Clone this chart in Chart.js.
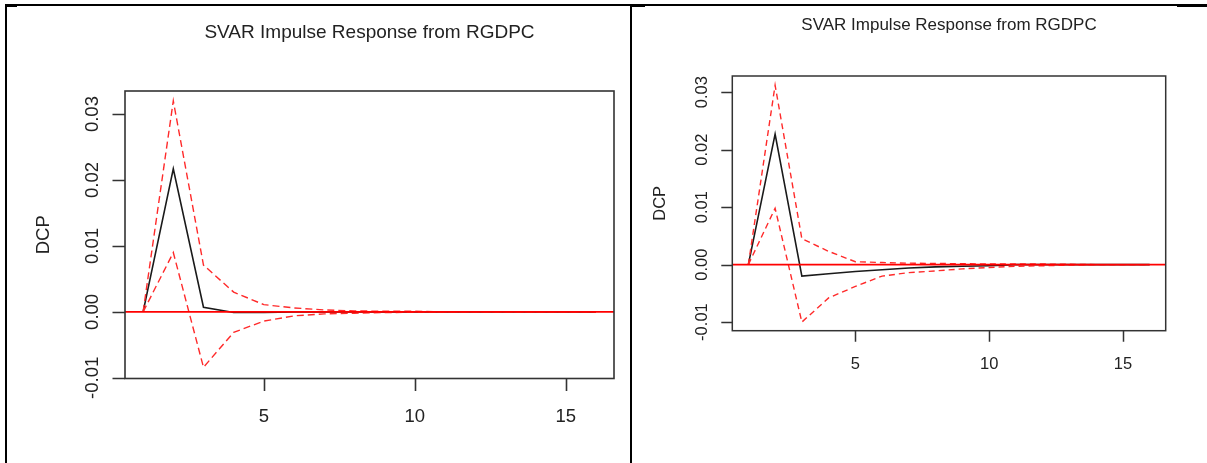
<!DOCTYPE html>
<html>
<head>
<meta charset="utf-8">
<title>SVAR Impulse Response from RGDPC</title>
<script src="https://cdn.jsdelivr.net/npm/chart.js@4.4.1/dist/chart.umd.min.js"></script>
<style>
  html, body { margin: 0; padding: 0; background: #fff; }
  body { width: 1207px; height: 463px; position: relative; overflow: hidden; }
  canvas { position: absolute; top: 0; }
  .rule { position: absolute; background: #000; }
</style>
</head>
<body>
<canvas id="leftChart" width="630" height="463" style="left:0"></canvas>
<canvas id="rightChart" width="577" height="463" style="left:630px"></canvas>

<!-- table cell borders -->
<div class="rule" style="left:5px;top:4px;width:1202px;height:2px"></div>
<div class="rule" style="left:5px;top:4px;width:12px;height:3px"></div>
<div class="rule" style="left:5px;top:4px;width:2px;height:459px"></div>
<div class="rule" style="left:630px;top:4px;width:2px;height:459px"></div>
<div class="rule" style="left:630px;top:5px;width:15px;height:2px"></div>
<div class="rule" style="left:1177px;top:5px;width:30px;height:2px"></div>

<script>
// horizon steps
const steps = [1, 2, 3, 4, 5, 6, 7, 8, 9, 10, 11, 12, 13, 14, 15, 16];

// left panel
const leftIrf   = [0, 0.0217, 0.0007, -0.0001, -0.0001, 0, 0, 0, 0, 0, 0, 0, 0, 0, 0, 0];
const leftUpper = [0, 0.0320, 0.0071, 0.0030, 0.0011, 0.0006, 0.0003, 0.00015, 0.0001, 0.0001, 0, 0, 0, 0, 0, 0];
const leftLower = [0, 0.0090, -0.0084, -0.0031, -0.0014, -0.0006, -0.0003, -0.0002, -0.0001, -0.00005, 0, 0, 0, 0, 0, 0];

// right panel
const rightIrf   = [0, 0.0227, -0.0020, -0.0016, -0.0012, -0.0009, -0.0006, -0.0004, -0.0003, -0.0002, 0, 0, 0, 0, 0, 0];
const rightUpper = [0, 0.0312, 0.0045, 0.0023, 0.0005, 0.00035, 0.00025, 0.0002, 0.00015, 0.0001, 0.0001, 0.0001, 0.00005, 0, 0, 0];
const rightLower = [0, 0.0098, -0.0100, -0.0058, -0.0038, -0.0020, -0.0014, -0.0011, -0.00075, -0.0005, -0.0003, -0.0002, -0.0001, 0, 0, 0];

const xTicks = [5, 10, 15];
const xTickLabels = ['5', '10', '15'];
const yTicks = [-0.01, 0, 0.01, 0.02, 0.03];
const yTickLabels = ['-0.01', '0.00', '0.01', '0.02', '0.03'];

const mainTitle = 'SVAR Impulse Response from RGDPC';
const yAxisTitle = 'DCP';

const FONT = '"Liberation Sans", Arial, sans-serif';

const pts = (ys) => steps.map((s, i) => ({ x: s, y: ys[i] }));

// R-style frame, ticks, labels and titles
const rFrame = {
  id: 'rFrame',
  afterDraw(chart, args, o) {
    const { ctx, chartArea: a, scales: { x, y } } = chart;
    ctx.save();
    ctx.strokeStyle = '#333';
    ctx.lineWidth = o.lw;
    ctx.strokeRect(a.left, a.top, a.right - a.left, a.bottom - a.top);

    ctx.beginPath();
    xTicks.forEach(v => {
      const px = Math.round(x.getPixelForValue(v)) + 0.5;
      ctx.moveTo(px, a.bottom);
      ctx.lineTo(px, a.bottom + o.tick);
    });
    yTicks.forEach(v => {
      const py = Math.round(y.getPixelForValue(v)) + 0.5;
      ctx.moveTo(a.left, py);
      ctx.lineTo(a.left - o.tick, py);
    });
    ctx.stroke();

    ctx.fillStyle = '#222';
    ctx.textAlign = 'center';
    ctx.textBaseline = 'alphabetic';
    ctx.font = o.size + 'px ' + FONT;
    xTicks.forEach((v, i) => {
      ctx.fillText(xTickLabels[i], x.getPixelForValue(v), o.xLabelY + 0.36 * o.size);
    });
    yTicks.forEach((v, i) => {
      ctx.save();
      ctx.translate(o.yLabelX + 0.36 * o.size, y.getPixelForValue(v));
      ctx.rotate(-Math.PI / 2);
      ctx.fillText(yTickLabels[i], 0, 0);
      ctx.restore();
    });

    ctx.save();
    ctx.translate(o.ylabX + 0.36 * o.size, (a.top + a.bottom) / 2);
    ctx.rotate(-Math.PI / 2);
    ctx.fillText(yAxisTitle, 0, 0);
    ctx.restore();

    ctx.font = o.titleSize + 'px ' + FONT;
    ctx.fillText(mainTitle, (a.left + a.right) / 2, o.titleBase);
    ctx.restore();
  }
};

function makePanel(id, irf, upper, lower, yMin, yMax, pad, frameOpts) {
  const dashed = (ys) => ({
    data: pts(ys),
    borderColor: '#ff2a2a',
    borderWidth: 1.4,
    borderDash: frameOpts.dash,
    order: 1
  });
  return new Chart(document.getElementById(id), {
    type: 'line',
    data: {
      datasets: [
        {
          // abline(h = 0), drawn on top
          data: [{ x: 0.4, y: 0 }, { x: 16.6, y: 0 }],
          borderColor: '#ff0000',
          borderWidth: 1.9,
          order: 0
        },
        dashed(upper),
        dashed(lower),
        {
          data: pts(irf),
          borderColor: '#1a1a1a',
          borderWidth: 1.6,
          order: 2
        }
      ]
    },
    options: {
      responsive: false,
      animation: false,
      devicePixelRatio: 1,
      events: [],
      layout: { padding: pad },
      elements: { point: { radius: 0 }, line: { tension: 0 } },
      plugins: {
        legend: { display: false },
        tooltip: { enabled: false },
        rFrame: frameOpts
      },
      scales: {
        x: { type: 'linear', min: 0.4, max: 16.6, display: false },
        y: { type: 'linear', min: yMin, max: yMax, display: false }
      }
    },
    plugins: [rFrame]
  });
}

makePanel('leftChart', leftIrf, leftUpper, leftLower, -0.0101, 0.0335,
  { left: 125, top: 91, right: 16, bottom: 84.5 },
  { lw: 1.6, tick: 12.5, size: 18.5, titleSize: 19, xLabelY: 415, yLabelX: 91.5, ylabX: 42, titleBase: 37.5, dash: [7, 4] });

makePanel('rightChart', rightIrf, rightUpper, rightLower, -0.0115, 0.0328,
  { left: 102.3, top: 76, right: 41.3, bottom: 132.3 },
  { lw: 1.5, tick: 11, size: 16.5, titleSize: 17, xLabelY: 363.5, yLabelX: 71.5, ylabX: 29, titleBase: 30, dash: [6, 4] });
</script>
</body>
</html>
